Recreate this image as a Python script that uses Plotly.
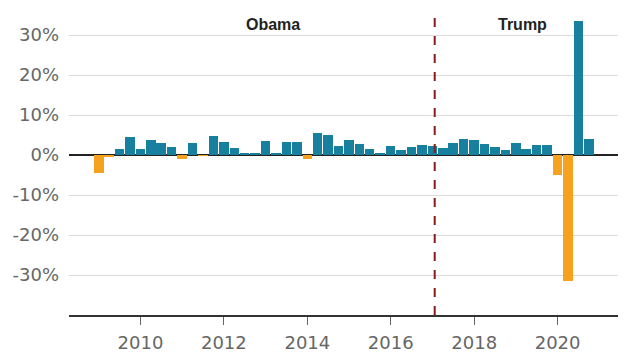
import plotly.graph_objects as go
import pandas as pd

# Quarterly real GDP growth (annualized, %), 2009 Q1 – 2020 Q4
quarters = pd.date_range("2009-01-01", "2020-10-01", freq="QS").strftime("%Y-%m-%d").tolist()
growth = [
    -4.4, -0.6, 1.5, 4.5,      # 2009
    1.5, 3.7, 3.0, 2.0,        # 2010
    -1.0, 2.9, -0.1, 4.7,      # 2011
    3.2, 1.7, 0.5, 0.5,        # 2012
    3.6, 0.5, 3.2, 3.2,        # 2013
    -1.1, 5.5, 5.0, 2.3,       # 2014
    3.8, 2.7, 1.5, 0.6,        # 2015
    2.2, 1.2, 2.1, 2.5,        # 2016
    2.3, 1.7, 2.9, 3.9,        # 2017
    3.8, 2.7, 2.1, 1.3,        # 2018
    2.9, 1.5, 2.6, 2.4,        # 2019
    -5.0, -31.4, 33.4, 4.0,    # 2020
]
y_ticks = [-30, -20, -10, 0, 10, 20, 30]
y_tick_labels = ["-30%", "-20%", "-10%", "0%", "10%", "20%", "30%"]
x_ticks = ["2010-01-01", "2012-01-01", "2014-01-01", "2016-01-01", "2018-01-01", "2020-01-01"]
x_tick_labels = ["2010", "2012", "2014", "2016", "2018", "2020"]
inauguration = "2017-01-20"
presidents = ["Obama", "Trump"]
president_label_x = ["2013-03-10", "2019-02-25"]

BLUE = "#17809f"
ORANGE = "#f7a21e"
colors = [BLUE if v >= 0 else ORANGE for v in growth]

fig = go.Figure()
fig.add_trace(go.Bar(
    x=quarters, y=growth,
    marker=dict(color=colors, line=dict(width=0)),
    width=83 * 86400000,
    hoverinfo="x+y",
))

fig.add_shape(type="line", xref="x", yref="paper",
              x0=inauguration, x1=inauguration, y0=0, y1=1,
              line=dict(color="#8b1c1c", width=2, dash="dash"), layer="above")

for name, xpos in zip(presidents, president_label_x):
    fig.add_annotation(x=xpos, y=1.0, xref="x", yref="paper",
                       yanchor="top", yshift=-3,
                       text="<b>%s</b>" % name, showarrow=False,
                       font=dict(family="Liberation Sans, Arial", size=16, color="#222222"))

# page body has an 8px margin; compensate so the plot lands where the reference has it
fig.update_layout(
    width=632, height=355,
    margin=dict(l=61, r=22, t=3, b=48),
    plot_bgcolor="white", paper_bgcolor="white",
    showlegend=False, bargap=0,
    font=dict(family="DejaVu Sans", color="#666666"),
)
fig.update_xaxes(
    type="date",
    range=["2008-04-15", "2021-06-13"],
    tickvals=x_ticks, ticktext=x_tick_labels,
    ticks="outside", ticklen=8, tickcolor="#666666", tickwidth=1,
    tickfont=dict(family="DejaVu Sans", size=18, color="#666666"),
    showgrid=False, showline=True, linecolor="#333333", linewidth=2,
    zeroline=False, ticklabelstandoff=2,
)
fig.update_yaxes(
    range=[-40, 36],
    tickvals=y_ticks, ticktext=y_tick_labels,
    tickfont=dict(family="DejaVu Sans", size=18, color="#666666"),
    showgrid=True, gridcolor="#dddddd", gridwidth=1,
    zeroline=True, zerolinecolor="#222222", zerolinewidth=2,
    showline=False, ticks="", ticklabelstandoff=9,
)

fig.write_html("out.html")
